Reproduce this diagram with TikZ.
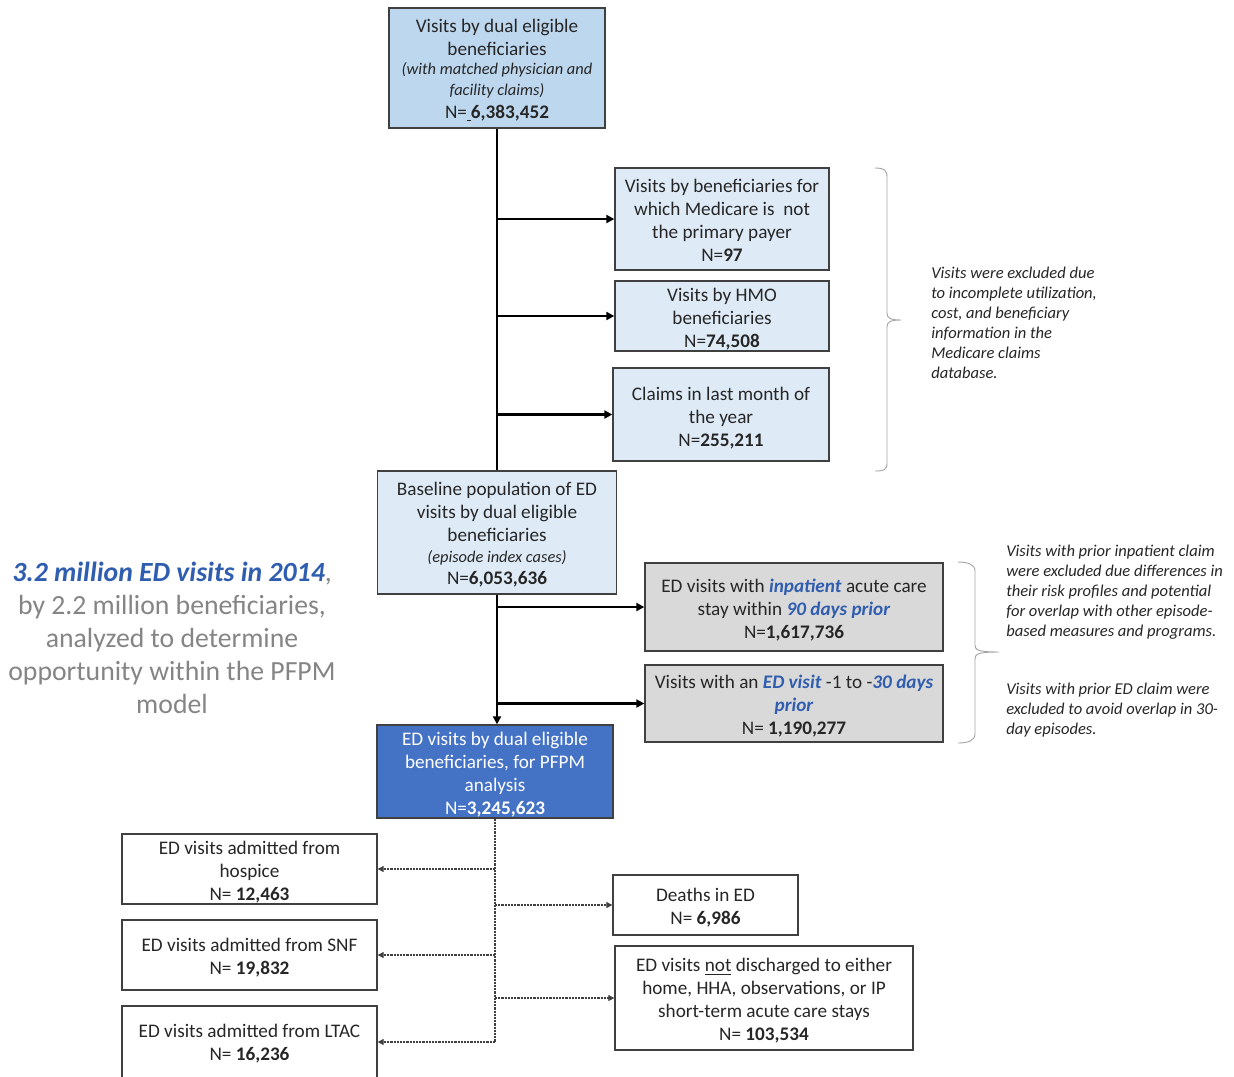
\documentclass[tikz,border=0pt]{standalone}
\usepackage{fontspec}
\setmainfont{Carlito}
\usetikzlibrary{arrows.meta}
\definecolor{lb}{HTML}{BDD7EE}
\definecolor{llb}{HTML}{DEEBF7}
\definecolor{gbox}{HTML}{D9D9D9}
\definecolor{db}{HTML}{4472C4}
\definecolor{bt}{HTML}{2F5DAF}
\definecolor{tx}{HTML}{262626}
\definecolor{gt}{HTML}{858585}
\definecolor{bd}{HTML}{404040}
\newcommand\hlb[1]{\textcolor{bt}{\textbf{\textit{#1}}}}
\newcommand\smit[1]{{\fontsize{12.3}{14.5}\selectfont\itshape #1}}
\begin{document}
\begin{tikzpicture}[x=0.75pt,y=-0.75pt,
 box/.style={draw=bd,line width=1pt,inner sep=0pt},
 txt/.style={align=center,inner sep=0pt,text=tx,font=\fontsize{14.4}{17.25}\selectfont},
 sz/.style 2 args={minimum width=#1*0.75pt,minimum height=#2*0.75pt},
 solidarr/.style={draw=black,line width=2pt,-{Triangle[length=6pt,width=6pt]}},
 dsharr/.style={draw=bd,line width=0.8pt,dash pattern=on 1.6pt off 0.8pt,-{Triangle[length=4.5pt,width=4.5pt]}},
 note/.style={anchor=north west,align=left,inner sep=0pt,text=tx,font=\fontsize{12.4}{15}\selectfont\itshape},
 brc/.style={draw=gray!70,line width=0.7pt}
]
\useasboundingbox (0,0) rectangle (1234,1076);
\fill[white] (0,0) rectangle (1234,1076);

% box frames
\node[box,fill=lb,sz={216}{120}] (top) at (497,68) {};
\node[box,fill=llb,sz={214}{102}] (b2) at (722,219) {};
\node[box,fill=llb,sz={214}{70}] (b3) at (722,316) {};
\node[box,fill=llb,sz={216}{93}] (b4) at (721,414.5) {};
\node[box,fill=llb,sz={239}{123}] (base) at (497,532.5) {};
\node[box,fill=gbox,sz={298}{88}] (g1) at (794,607) {};
\node[box,fill=gbox,sz={298}{77}] (g2) at (794,703.5) {};
\node[box,fill=db,sz={236}{93}] (blue) at (495,771.5) {};
\node[box,fill=white,sz={255}{70}] (hos) at (249.5,869) {};
\node[box,fill=white,sz={255}{70}] (snf) at (249.5,955) {};
\node[box,fill=white,sz={255}{72}] (ltac) at (249.5,1042) {};
\node[box,fill=white,sz={185}{60}] (death) at (705.5,905) {};
\node[box,fill=white,sz={298}{104}] (nd) at (764,998) {};

% box texts
\node[txt] (top-t) at ([yshift=-1.5pt]top.center) {Visits by dual eligible\\beneficiaries\\[-3pt]\smit{(with matched physician and}\\[-1.75pt]\smit{facility claims)}\\N=\underline{\hspace{3pt}}\textbf{6,383,452}};
\node[txt] (b2-t) at ([yshift=-0.8pt]b2.center) {Visits by beneficiaries for\\which Medicare is~ not\\the primary payer\\N=\textbf{97}};
\node[txt] (b3-t) at ([yshift=-2.25pt]b3.center) {Visits by HMO\\beneficiaries\\N=\textbf{74,508}};
\node[txt] (b4-t) at ([yshift=-2.6pt]b4.center) {Claims in last month of\\the year\\N=\textbf{255,211}};
\node[txt] (base-t) at ([yshift=-1.8pt]base.center) {Baseline population of ED\\visits by dual eligible\\beneficiaries\\[-1.5pt]\smit{(episode index cases)}\\[-0.75pt]N=\textbf{6,053,636}};
\node[txt] (g1-t) at ([yshift=-2.25pt]g1.center) {ED visits with \hlb{inpatient} acute care\\stay within \hlb{90 days prior}\\N=\textbf{1,617,736}};
\node[txt] (g2-t) at ([yshift=-2.25pt]g2.center) {Visits with an \hlb{ED visit} -1 to -\hlb{30 days}\\\hlb{prior}\\N= \textbf{1,190,277}};
\node[txt,text=white] (blue-t) at ([yshift=-2.25pt]blue.center) {ED visits by dual eligible\\beneficiaries, for PFPM\\analysis\\N=\textbf{3,245,623}};
\node[txt] (hos-t) at ([yshift=-2.25pt]hos.center) {ED visits admitted from\\hospice\\N= \textbf{12,463}};
\node[txt] (snf-t) at ([yshift=-2.25pt]snf.center) {ED visits admitted from SNF\\N= \textbf{19,832}};
\node[txt] (ltac-t) at ([yshift=-1.5pt]ltac.center) {ED visits admitted from LTAC\\N= \textbf{16,236}};
\node[txt] (death-t) at ([yshift=-2.25pt]death.center) {Deaths in ED\\N= \textbf{6,986}};
\node[txt] (nd-t) at ([yshift=-2.25pt]nd.center) {ED visits \underline{not} discharged to either\\home, HHA, observations, or IP\\short-term acute care stays\\N= \textbf{103,534}};

% solid connectors
\draw[line width=2.2pt] (top.south) -- (base.north);
\draw[solidarr] (top.south |- b2.west) -- (b2.west);
\draw[solidarr] (top.south |- b3.west) -- (b3.west);
\draw[solidarr] (top.south |- b4.west) -- (b4.west);
\draw[solidarr,line width=2.2pt] (base.south) -- (base.south |- blue.north);
\draw[solidarr] (base.south |- g1.west) -- (g1.west);
\draw[solidarr] (base.south |- g2.west) -- (g2.west);

% dashed connectors
\draw[draw=bd,line width=0.8pt,dash pattern=on 1.6pt off 0.8pt] (blue.south) -- (blue.south |- ltac.east);
\draw[dsharr] (blue.south |- hos.east) -- (hos.east);
\draw[dsharr] (blue.south |- snf.east) -- (snf.east);
\draw[dsharr] (blue.south |- ltac.east) -- (ltac.east);
\draw[dsharr] (blue.south |- death.west) -- (death.west);
\draw[dsharr] (blue.south |- nd.west) -- (nd.west);

% braces
\draw[brc] (875,168) .. controls (884,168) and (887,170) .. (887,177) -- (887,313) .. controls (887,318) and (890,320) .. (901,320) .. controls (890,320) and (887,322) .. (887,327) -- (887,463) .. controls (887,470) and (884,471) .. (875,471);
\draw[brc] (958,562) .. controls (967,562) and (975,564) .. (975,571) -- (975,645) .. controls (975,650) and (978,652) .. (999,652) .. controls (978,652) and (975,654) .. (975,659) -- (975,734) .. controls (975,741) and (967,743) .. (958,743);

% notes
\node[note] (n1) at (931,267) {Visits were excluded due\\to incomplete utilization,\\cost, and beneficiary\\information in the\\Medicare claims\\database.};
\node[note] (n2) at (1006,545) {Visits with prior inpatient claim\\were excluded due differences in\\their risk profiles and potential\\for overlap with other episode-\\based measures and programs.};
\node[note] (n3) at (1006,683) {Visits with prior ED claim were\\excluded to avoid overlap in 30-\\day episodes.};

% left summary
\node[align=center,inner sep=0pt,text=gt,font=\fontsize{20.8}{24.75}\selectfont] (sum) at (172,638) {\textcolor{bt}{\textbf{\textit{3.2 million ED visits in 2014}}},\\by 2.2 million beneficiaries,\\analyzed to determine\\opportunity within the PFPM\\model};
\end{tikzpicture}
\end{document}
